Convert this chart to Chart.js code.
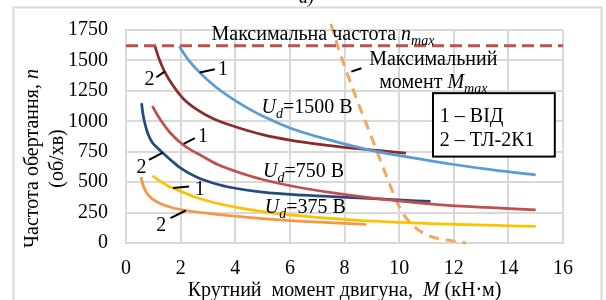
<!DOCTYPE html>
<html>
<head>
<meta charset="utf-8">
<script src="https://cdn.jsdelivr.net/npm/chart.js@4.4.1/dist/chart.umd.min.js"></script>
<style>
  html, body { margin: 0; padding: 0; background: #fff; }
  canvas { display: block; }
</style>
</head>
<body>
<canvas id="chart" width="606" height="300"></canvas>
<script>
const serif = '"Liberation Serif", "Times New Roman", serif';

// tick labels
const xTicks = [0, 2, 4, 6, 8, 10, 12, 14, 16];
const yTicks = [0, 250, 500, 750, 1000, 1250, 1500, 1750];

// Ud = 1500 В : 1 - ВІД, 2 - ТЛ-2К1
const mVid1500 = [1.95, 2.3, 2.7, 3.3, 4.0, 4.6, 5.2, 6.0, 7.3, 9.1, 10.5, 12.0, 13.5, 15.0];
const nVid1500 = [1615, 1500, 1400, 1280, 1170, 1090, 1022, 945, 855, 755, 700, 645, 598, 560];
const mTl1500 = [1.05, 1.2, 1.4, 1.7, 2.1, 2.6, 3.2, 4.0, 5.0, 6.0, 7.3, 8.5, 9.3, 10.25];
const nTl1500 = [1625, 1520, 1415, 1300, 1185, 1095, 1020, 955, 890, 845, 805, 775, 758, 738];

// Ud = 750 В
const mVid750 = [0.97, 1.1, 1.3, 1.6, 2.1, 2.8, 3.4, 4.0, 5.0, 6.5, 8.1, 9.7, 11.4, 13.2, 15.0];
const nVid750 = [1125, 1070, 1000, 910, 805, 712, 640, 590, 522, 450, 396, 352, 316, 292, 273];
const mTl750 = [0.57, 0.62, 0.7, 0.8, 0.95, 1.1, 1.35, 1.7, 2.0, 2.6, 3.3, 4.0, 5.0, 6.5, 8.1, 9.6, 11.15];
const nTl750 = [1148, 1060, 975, 900, 830, 793, 740, 670, 615, 540, 485, 450, 418, 393, 375, 358, 341];

// Ud = 375 В
const mVid375 = [0.97, 1.1, 1.3, 1.5, 1.72, 2.0, 2.5, 3.2, 4.0, 5.0, 6.5, 8.2, 10.0, 11.4, 13.2, 15.0];
const nVid375 = [552, 530, 500, 473, 451, 425, 380, 333, 295, 258, 220, 190, 170, 158, 146, 136];
const mTl375 = [0.55, 0.6, 0.68, 0.78, 0.95, 1.25, 1.7, 2.2, 3.0, 4.0, 5.0, 6.3, 7.6, 8.8];
const nTl375 = [541, 495, 445, 405, 365, 325, 290, 267, 243, 220, 200, 180, 165, 152];

// обмеження: максимальна частота і максимальний момент
const mNmax = [0, 16];
const nNmax = [1620, 1620];
const mMmax = [7.5, 7.82, 8.12, 8.5, 8.85, 9.45, 10.06, 10.55, 11.15, 11.8, 12.45];
const nMmax = [1800, 1571, 1380, 1150, 950, 601, 273, 136, 54, 22, 0];

const pts = (ms, ns) => ms.map((m, i) => ({ x: m, y: ns[i] }));

const curve = (label, ms, ns, color) => ({
  label: label,
  data: pts(ms, ns),
  showLine: true,
  borderColor: color,
  borderWidth: 2.75,
  pointRadius: 0,
  cubicInterpolationMode: 'monotone',
  fill: false
});

const datasets = [
  Object.assign(curve('nmax', mNmax, nNmax, '#C0504D'), { borderWidth: 3, borderDash: [12, 6] }),
  curve('ВІД 1500', mVid1500, nVid1500, '#5B9BD5'),
  curve('ТЛ-2К1 1500', mTl1500, nTl1500, '#8B2C2C'),
  curve('ВІД 750', mVid750, nVid750, '#C0504D'),
  curve('ТЛ-2К1 750', mTl750, nTl750, '#264A7D'),
  curve('ВІД 375', mVid375, nVid375, '#FFC000'),
  curve('ТЛ-2К1 375', mTl375, nTl375, '#F79646'),
  Object.assign(curve('Mmax', mMmax, nMmax, '#F6A55C'), { borderWidth: 3, borderDash: [10, 7], clip: false })
];

// малює рядок з кількох частин (курсив, нижній індекс)
function drawRuns(ctx, x, y, parts, size, align) {
  const fontOf = p => (p.i ? 'italic ' : '') + (p.sub ? Math.round(size * 0.7) : size) + 'px ' + serif;
  let w = 0;
  parts.forEach(p => { ctx.font = fontOf(p); w += ctx.measureText(p.t).width; });
  let cx = align === 'center' ? x - w / 2 : x;
  parts.forEach(p => {
    ctx.font = fontOf(p);
    ctx.fillText(p.t, cx, y + (p.sub ? size * 0.25 : 0));
    cx += ctx.measureText(p.t).width;
  });
}

const notes = {
  id: 'notes',
  beforeDraw(chart) {
    const ctx = chart.ctx;
    ctx.save();
    ctx.fillStyle = '#fff';
    ctx.fillRect(0, 0, chart.width, chart.height);
    ctx.strokeStyle = '#d9d9d9';
    ctx.lineWidth = 2;
    ctx.strokeRect(13.5, 7.5, 588, 320);
    ctx.fillStyle = '#000';
    ctx.textAlign = 'left';
    ctx.textBaseline = 'alphabetic';
    drawRuns(ctx, 299, 3, [{ t: 'а)', i: true }], 18, 'left');
    ctx.restore();
  },
  afterDraw(chart) {
    const ctx = chart.ctx;
    const xs = chart.scales.x, ys = chart.scales.y;
    const P = (m, n) => [xs.getPixelForValue(m), ys.getPixelForValue(n)];
    ctx.save();
    ctx.fillStyle = '#000';
    ctx.strokeStyle = '#000';
    ctx.textAlign = 'left';
    ctx.textBaseline = 'alphabetic';

    // leader lines
    const leaders = [
      [2.70, 1400, 3.25, 1428], [1.11, 1362, 1.42, 1408],
      [2.11, 815, 2.52, 861], [0.84, 683, 1.35, 743],
      [1.72, 451, 2.31, 464], [1.63, 205, 2.19, 267],
      [8.25, 1408, 8.62, 1436]
    ];
    ctx.lineWidth = 2;
    leaders.forEach(l => {
      const a = P(l[0], l[1]), b = P(l[2], l[3]);
      ctx.beginPath(); ctx.moveTo(a[0], a[1]); ctx.lineTo(b[0], b[1]); ctx.stroke();
    });

    const num = [['1', 3.37, 1381], ['2', 0.68, 1299], ['1', 2.64, 833],
                 ['2', 0.38, 577], ['1', 2.52, 396], ['2', 1.11, 95]];
    num.forEach(d => { const p = P(d[1], d[2]); drawRuns(ctx, p[0], p[1], [{ t: d[0] }], 20, 'left'); });

    let p = P(3.13, 1668);
    drawRuns(ctx, p[0], p[1], [{ t: 'Максимальна частота ' }, { t: 'n', i: true }, { t: 'max', i: true, sub: true }], 20, 'left');
    p = P(11.25, 1463);
    drawRuns(ctx, p[0], p[1], [{ t: 'Максимальний' }], 20, 'center');
    p = P(11.25, 1270);
    drawRuns(ctx, p[0], p[1], [{ t: 'момент ' }, { t: 'M', i: true }, { t: 'max', i: true, sub: true }], 20, 'center');

    const ud = [['1500', 4.96, 1067], ['750', 5.02, 546], ['375', 5.08, 246]];
    ud.forEach(d => {
      const q = P(d[1], d[2]);
      drawRuns(ctx, q[0], q[1], [{ t: 'U', i: true }, { t: 'd', i: true, sub: true }, { t: '=' + d[0] + ' В' }], 20, 'left');
    });

    // legend box
    const a = P(11.24, 1231), b = P(15.70, 710);
    ctx.fillStyle = '#fff';
    ctx.fillRect(a[0], a[1], b[0] - a[0], b[1] - a[1]);
    ctx.lineWidth = 2;
    ctx.strokeRect(a[0], a[1], b[0] - a[0], b[1] - a[1]);
    ctx.fillStyle = '#000';
    p = P(11.49, 998);
    drawRuns(ctx, p[0], p[1], [{ t: '1 – ВІД' }], 20, 'left');
    p = P(11.49, 798);
    drawRuns(ctx, p[0], p[1], [{ t: '2 – ТЛ-2К1' }], 20, 'left');

    // axis titles
    const area = chart.chartArea;
    drawRuns(ctx, (area.left + area.right) / 2, 296,
      [{ t: 'Крутний  момент двигуна,  ' }, { t: 'M', i: true }, { t: ' (кН·м)' }], 20, 'center');
    const cy = (area.top + area.bottom) / 2 + 22;
    ctx.translate(31, cy);
    ctx.rotate(-Math.PI / 2);
    drawRuns(ctx, 0, 7, [{ t: 'Частота обертання, ' }, { t: 'n', i: true }], 20, 'center');
    drawRuns(ctx, 0, 32, [{ t: '(об/хв)' }], 20, 'center');
    ctx.restore();
  }
};

new Chart(document.getElementById('chart'), {
  type: 'scatter',
  data: { datasets: datasets },
  plugins: [notes],
  options: {
    responsive: false,
    animation: false,
    devicePixelRatio: 1,
    layout: { padding: { left: 0, top: 30, right: 43, bottom: 0 } },
    plugins: { legend: { display: false }, tooltip: { enabled: false } },
    scales: {
      x: {
        type: 'linear', min: 0, max: 16,
        afterBuildTicks: s => { s.ticks = xTicks.map(v => ({ value: v })); },
        afterFit: s => { s.height = 57; },
        ticks: { color: '#000', font: { family: serif, size: 20 }, padding: 14, maxRotation: 0, autoSkip: false,
                 callback: v => String(v) },
        grid: { color: '#d9d9d9', lineWidth: 2, drawTicks: false },
        border: { color: '#d9d9d9', width: 2 }
      },
      y: {
        type: 'linear', min: 0, max: 1750,
        afterBuildTicks: s => { s.ticks = yTicks.map(v => ({ value: v })); },
        afterFit: s => { s.width = 126; },
        ticks: { color: '#000', font: { family: serif, size: 20 }, padding: 18, autoSkip: false,
                 callback: v => String(v) },
        grid: { color: '#d9d9d9', lineWidth: 2, drawTicks: false },
        border: { color: '#d9d9d9', width: 2 }
      }
    }
  }
});
</script>
</body>
</html>
